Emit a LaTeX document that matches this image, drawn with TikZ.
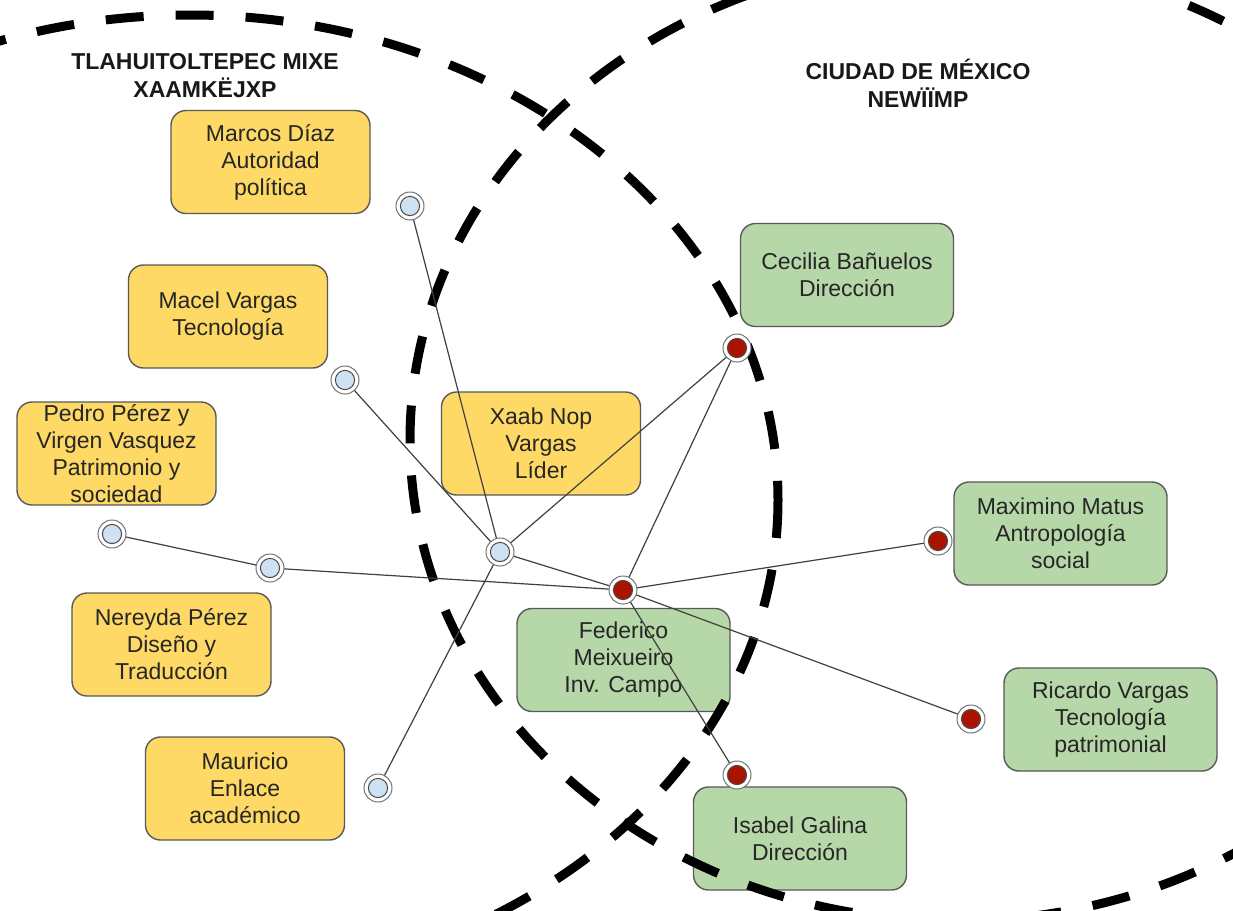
\documentclass[tikz,border=0pt]{standalone}
\usepackage{fontspec}
\setmainfont{Liberation Sans}
\usetikzlibrary{positioning}
\pgfdeclarelayer{front}
\pgfsetlayers{main,front}
\definecolor{yfill}{HTML}{FFD966}
\definecolor{gfill}{HTML}{B6D7A8}
\definecolor{dotblue}{HTML}{CFE2F3}
\definecolor{dotred}{HTML}{AA1300}

\begin{document}
\begin{tikzpicture}[x=0.5pt, y=-0.5pt, line join=round,
  ybox/.style={draw=black!65, line width=0.7pt, fill=yfill, rounded corners=7.5pt,
    minimum width=99.5pt, minimum height=51.5pt, inner sep=0pt, align=center,
    text=black!85, font=\fontsize{11.5}{13.5}\selectfont},
  gbox/.style={ybox, fill=gfill, minimum width=106.5pt},
  heading/.style={align=center, font=\fontsize{11.5}{14}\selectfont\bfseries, text=black!90},
  zone/.style={line width=4.5pt, dash pattern=on 19pt off 16pt},
  link/.style={draw=black!75, line width=0.6pt},
  bdot/.style={circle, draw=black!55, fill=white, line width=0.5pt, minimum size=14pt, inner sep=0pt,
    path picture={\filldraw[draw=black!70, fill=dotblue, line width=0.5pt]
      (path picture bounding box.center) circle (4.8pt);}},
  rdot/.style={bdot, path picture={\filldraw[draw=black!70, fill=dotred, line width=0.5pt]
      (path picture bounding box.center) circle (4.8pt);}}]
  \useasboundingbox (0,0) rectangle (1233,911);
  \fill[white] (0,0) rectangle (1233,911);
  \clip (0,0) rectangle (1233,911);

  % titles
  \node[heading] (tmixe) at (205,76) {TLAHUITOLTEPEC MIXE\\XAAMKËJXP};
  \node[heading] (tcdmx) at (918,83) {CIUDAD DE MÉXICO\\NEWÏÏMP};

  % Tlahuitoltepec
  \node[ybox] (marcos) at (270.5,162) {Marcos Díaz\\Autoridad\\política};
  \node[ybox] (macel) at (228,316.5) {Macel Vargas\\Tecnología};
  \node[ybox] (pedro) at (116.5,453.5) {Pedro Pérez y\\Virgen Vasquez\\Patrimonio y\\sociedad};
  \node[ybox] (xaab) at (541,443.5) {Xaab Nop\\Vargas\\Líder};
  \node[ybox] (nereyda) at (171.5,644.5) {Nereyda Pérez\\Diseño y\\Traducción};
  \node[ybox] (mauricio) at (245,788.5) {Mauricio\\Enlace\\académico};

  % Ciudad de Mexico
  \node[gbox] (cecilia) at (847,275) {Cecilia Bañuelos\\Dirección};
  \node[gbox] (maximino) at (1060.5,533.5) {Maximino Matus\\Antropología\\social};
  \node[gbox] (federico) at (623.5,660) {Federico\\Meixueiro\\Inv. Campo};
  \node[gbox] (ricardo) at (1110.5,719.5) {Ricardo Vargas\\Tecnología\\patrimonial};
  \node[gbox] (isabel) at (800,838.5) {Isabel Galina\\Dirección};

  % the two zones
  \draw[zone] (190,500) ellipse [x radius=588, y radius=485];
  \draw[zone] (955,440) ellipse [x radius=545, y radius=481];

  \begin{pgfonlayer}{front}
    \node[bdot] (mmarcos) at (410,206) {};
    \node[bdot] (mmacel) at (345,380) {};
    \node[bdot] (mpedro) at (112,534) {};
    \node[bdot] (mnereyda) at (270,568) {};
    \node[bdot] (mxaab) at (500,552) {};
    \node[bdot] (mmauricio) at (378,788) {};
    \node[rdot] (mcecilia) at (737,348) {};
    \node[rdot] (mmaximino) at (938,541) {};
    \node[rdot] (mfederico) at (623,590) {};
    \node[rdot] (mricardo) at (971,719) {};
    \node[rdot] (misabel) at (737,775) {};
  \end{pgfonlayer}

  \draw[link] (mmarcos.center) -- (mxaab.center);
  \draw[link] (mmacel.center) -- (mxaab.center);
  \draw[link] (mpedro.center) -- (mnereyda.center) -- (mfederico.center);
  \draw[link] (mxaab.center) -- (mcecilia.center);
  \draw[link] (mxaab.center) -- (mmauricio.center);
  \draw[link] (mxaab.center) -- (mfederico.center);
  \foreach \m in {mcecilia, mmaximino, mricardo, misabel}
    \draw[link] (mfederico.center) -- (\m.center);
\end{tikzpicture}
\end{document}
